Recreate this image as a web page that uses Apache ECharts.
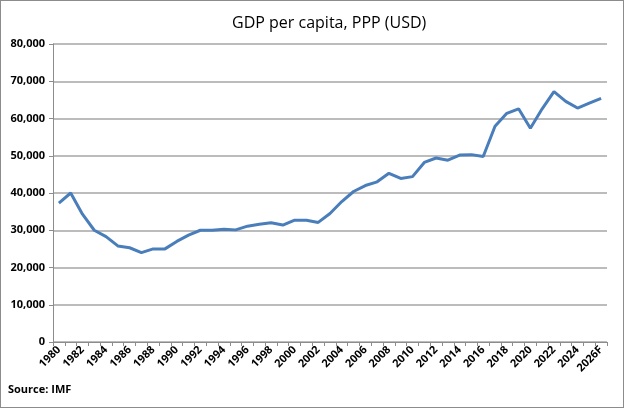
<!DOCTYPE html>
<html>
<head>
<meta charset="utf-8">
<script src="https://cdn.jsdelivr.net/npm/echarts@6/dist/echarts.min.js"></script>
<style>
  html, body { margin: 0; padding: 0; background: #fff; }
  #chart { width: 624px; height: 408px; box-sizing: border-box; border: 1px solid #8c8c8c; }
</style>
</head>
<body>
<div id="chart"></div>
<script>
// years 1980 .. 2026F
const years = [];
for (let y = 1980; y <= 2025; y++) years.push(String(y));
years.push('2026F');

// GDP per capita, PPP (USD)
const gdpValues = [
  37300, 40000, 34300, 30000, 28300, 25800, 25300, 24000, 25000, 25000,
  27000, 28700, 30000, 30000, 30300, 30100, 31100, 31600, 32000, 31400,
  32700, 32700, 32100, 34500, 37700, 40400, 42000, 43000, 45300, 43900,
  44400, 48200, 49400, 48800, 50200, 50300, 49800, 57900, 61400, 62600,
  57400, 62600, 67200, 64600, 62800, 64100, 65400
];

const yTicks = [0, 10000, 20000, 30000, 40000, 50000, 60000, 70000, 80000];

const font = '"Open Sans", "Noto Sans", sans-serif';
const chart = echarts.init(document.getElementById('chart'));

chart.setOption({
  animation: false,
  title: {
    text: 'GDP per capita, PPP (USD)',
    left: 226,
    top: 9,
    textStyle: { fontFamily: font, fontSize: 16, fontWeight: 500, color: '#000' }
  },
  graphic: [{
    type: 'text',
    left: 7,
    top: 383,
    style: { text: 'Source: IMF', font: 'bold 11px ' + font, fill: '#000' }
  }],
  grid: { left: 52, right: 16, top: 43, bottom: 65, containLabel: false },
  xAxis: {
    type: 'category',
    data: years,
    boundaryGap: true,
    axisLine: { lineStyle: { color: '#8c8c8c', width: 1 } },
    axisTick: { show: true, alignWithLabel: false, interval: 0, length: 4, lineStyle: { color: '#8c8c8c' } },
    axisLabel: {
      interval: 1,
      rotate: 45,
      margin: 6,
      fontFamily: font,
      fontSize: 11,
      fontWeight: 'bold',
      color: '#000'
    }
  },
  yAxis: {
    type: 'value',
    min: yTicks[0],
    max: yTicks[yTicks.length - 1],
    interval: 10000,
    axisLine: { show: true, lineStyle: { color: '#8c8c8c', width: 1 } },
    axisTick: { show: true, length: 4, lineStyle: { color: '#8c8c8c' } },
    splitLine: { lineStyle: { color: '#a6a6a6', width: 1.5 } },
    axisLabel: {
      margin: 8,
      fontFamily: font,
      fontSize: 11,
      fontWeight: 'bold',
      color: '#000',
      formatter: v => v.toLocaleString('en-US')
    }
  },
  series: [{
    type: 'line',
    data: gdpValues,
    showSymbol: false,
    lineStyle: { color: '#4a7ebb', width: 3 },
    itemStyle: { color: '#4a7ebb' }
  }]
});
</script>
</body>
</html>
